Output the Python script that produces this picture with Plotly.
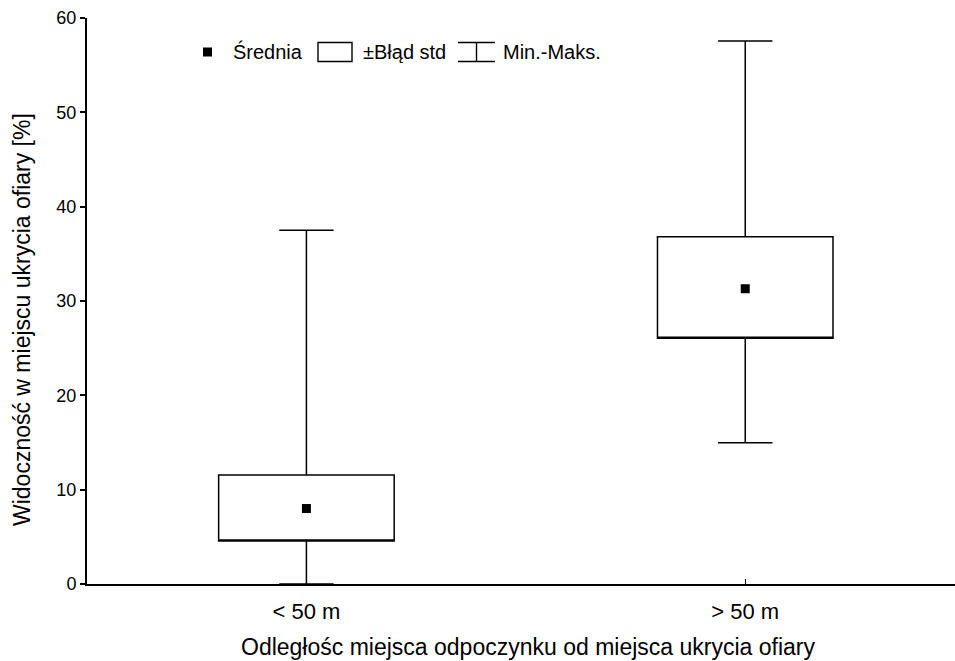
import plotly.graph_objects as go

# ---- data ----
categories = ["< 50 m", "> 50 m"]
means = [8.0, 31.3]
se_low = [4.56, 26.05]
se_high = [11.55, 36.8]
mins = [0.0, 14.98]
maxs = [37.5, 57.56]

y_ticks = [0, 10, 20, 30, 40, 50, 60]
x_title = "Odległośc miejsca odpoczynku od miejsca ukrycia ofiary"
y_title = "Widoczność w miejscu ukrycia ofiary [%]"
legend_labels = ["Średnia", "±Błąd std", "Min.-Maks."]

W, H = 955, 661
ML, MR, MT, MB = 87, 0, 18, 77
PW, PH = W - ML - MR, H - MT - MB
FONT = "Liberation Sans, Arial, sans-serif"


def px(x):
    return (x - ML) / PW


def py(y):
    return (H - MB - y) / PH


fig = go.Figure()
fig.add_trace(go.Box(
    x=categories, q1=se_low, median=se_low, q3=se_high,
    lowerfence=mins, upperfence=maxs,
    width=0.40, whiskerwidth=0.31,
    fillcolor="white", line=dict(color="black", width=1.5),
    boxpoints=False, showlegend=False, hoverinfo="skip",
))
fig.add_trace(go.Scatter(
    x=categories, y=means, mode="markers",
    marker=dict(symbol="square", size=9, color="black", line=dict(width=0)),
    showlegend=False, hoverinfo="skip",
))

# ---- custom legend ----
shapes = []
annotations = []
ly = 52
LF = 20
shapes.append(dict(type="rect", xref="paper", yref="paper",
                   x0=px(203), x1=px(212), y0=py(56.5), y1=py(47.5),
                   fillcolor="black", line=dict(width=0)))
annotations.append(dict(xref="paper", yref="paper", x=px(231), y=py(ly),
                        text=legend_labels[0], showarrow=False,
                        xanchor="left", yanchor="middle",
                        font=dict(family=FONT, size=LF, color="black")))
shapes.append(dict(type="rect", xref="paper", yref="paper",
                   x0=px(318), x1=px(352), y0=py(61.5), y1=py(42.5),
                   fillcolor="white", line=dict(color="black", width=1.4)))
annotations.append(dict(xref="paper", yref="paper", x=px(361), y=py(ly),
                        text=legend_labels[1], showarrow=False,
                        xanchor="left", yanchor="middle",
                        font=dict(family=FONT, size=LF, color="black")))
for yy in (42.5, 61.5):
    shapes.append(dict(type="line", xref="paper", yref="paper",
                       x0=px(458), x1=px(495), y0=py(yy), y1=py(yy),
                       line=dict(color="black", width=1.4)))
shapes.append(dict(type="line", xref="paper", yref="paper",
                   x0=px(476.5), x1=px(476.5), y0=py(42.5), y1=py(61.5),
                   line=dict(color="black", width=1.4)))
annotations.append(dict(xref="paper", yref="paper", x=px(501), y=py(ly),
                        text=legend_labels[2], showarrow=False,
                        xanchor="left", yanchor="middle",
                        font=dict(family=FONT, size=LF, color="black")))

# axis titles
annotations.append(dict(xref="paper", yref="paper", x=px(528), y=py(647),
                        text=x_title, showarrow=False,
                        xanchor="center", yanchor="middle",
                        font=dict(family=FONT, size=23, color="black")))
annotations.append(dict(xref="paper", yref="paper", x=px(22), y=py(320),
                        text=y_title, showarrow=False, textangle=-90,
                        xanchor="center", yanchor="middle",
                        font=dict(family=FONT, size=23, color="black")))

fig.update_layout(
    width=W, height=H,
    margin=dict(l=ML, r=MR, t=MT, b=MB, pad=0),
    paper_bgcolor="white", plot_bgcolor="white",
    font=dict(family=FONT, color="black"),
    shapes=shapes, annotations=annotations,
    showlegend=False,
    xaxis=dict(
        type="category", range=[-0.5, 1.478],
        showline=True, linecolor="black", linewidth=2,
        ticks="inside", ticklen=5, tickwidth=1, tickcolor="black",
        showgrid=False, zeroline=False,
        tickfont=dict(family=FONT, size=22, color="black"),
        ticklabelstandoff=7,
    ),
    yaxis=dict(
        range=[0, 60], tickvals=y_ticks,
        showline=True, linecolor="black", linewidth=2,
        ticks="outside", ticklen=5, tickwidth=1.5, tickcolor="black",
        showgrid=False, zeroline=False,
        tickfont=dict(family=FONT, size=18, color="black"),
    ),
)

fig.write_html("out.html")
